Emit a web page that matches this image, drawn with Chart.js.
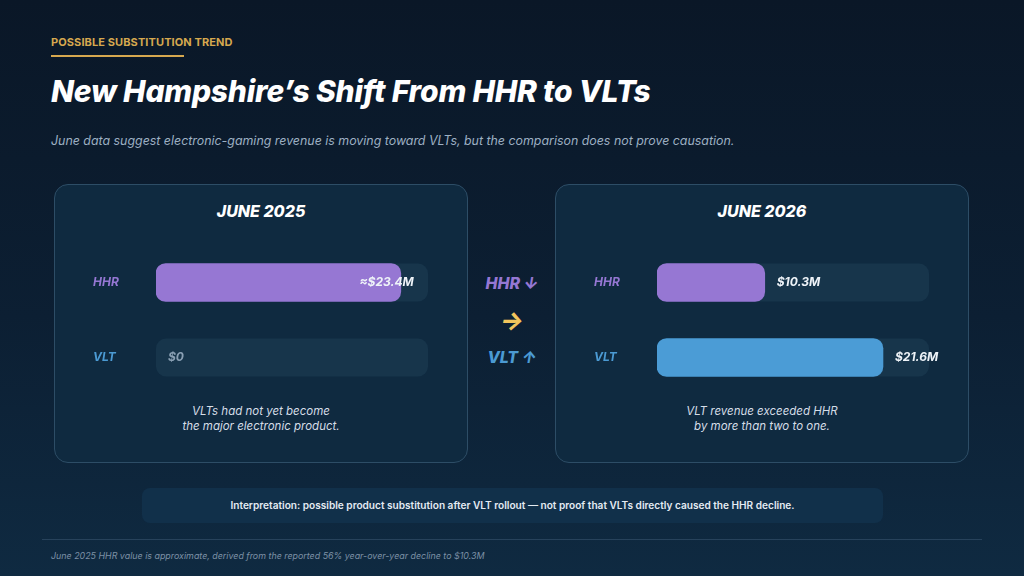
<!DOCTYPE html>
<html>
<head>
<meta charset="utf-8">
<script src="https://cdn.jsdelivr.net/npm/chart.js@4"></script>
<style>
  html, body { margin: 0; padding: 0; }
  body {
    width: 1024px; height: 576px; overflow: hidden; position: relative;
    background: linear-gradient(180deg, #0a1727 0%, #0c1f33 55%, #0f2a41 100%);
    font-family: Inter, "Noto Sans", sans-serif; color: #fff;
  }
  .abs { position: absolute; }
  .kicker { left: 51px; top: 35px; font-size: 11px; font-weight: 700; color: #d6a84f; letter-spacing: 0.1px; }
  .kicker-line { left: 51px; top: 55px; width: 133px; height: 2px; background: #d6a84f; }
  .title { left: 51px; top: 73px; font-size: 30px; font-weight: 800; font-style: italic; letter-spacing: -0.2px; }
  .subtitle { left: 51px; top: 133px; font-size: 12.4px; font-style: italic; color: #9db0c3; }
  .panel {
    top: 184px; width: 414px; height: 279px; border-radius: 14px;
    background: #0f2a40; border: 1px solid #2d4d66; box-sizing: border-box;
  }
  .panel-title { width: 100%; text-align: center; top: 16px; font-size: 16px; font-weight: 800; font-style: italic; }
  .caption { width: 100%; text-align: center; top: 219px; font-size: 11.5px; font-style: italic; color: #d5dde7; line-height: 15px; }
  .mid { left: 470px; width: 84px; text-align: center; font-weight: 800; font-style: italic; }
  .note {
    left: 142px; top: 488px; width: 741px; height: 35px; border-radius: 8px;
    background: #11304a; text-align: center; line-height: 35px;
    font-size: 10.1px; font-weight: 600; color: #e4ebf3;
  }
  .divider { left: 42px; top: 539px; width: 940px; height: 1px; background: #27425b; }
  .foot { left: 51px; top: 550px; font-size: 8.9px; font-style: italic; color: #7d91a6; }
  canvas { display: block; }
</style>
</head>
<body>
<div class="abs kicker">POSSIBLE SUBSTITUTION TREND</div>
<div class="abs kicker-line"></div>
<div class="abs title">New Hampshire’s Shift From HHR to VLTs</div>
<div class="abs subtitle">June data suggest electronic-gaming revenue is moving toward VLTs, but the comparison does not prove causation.</div>

<div class="abs panel" style="left:54px">
  <div class="abs panel-title">JUNE 2025</div>
  <div class="abs" style="left:38px; top:60px; width:348px; height:150px"><canvas id="chart-2025"></canvas></div>
  <div class="abs caption">VLTs had not yet become<br>the major electronic product.</div>
</div>

<div class="abs mid" style="top:273px; font-size:16px; color:#9577d3">HHR ↓</div>
<div class="abs mid" style="top:305px; font-size:25px; color:#f2c55c">→</div>
<div class="abs mid" style="top:347px; font-size:16px; color:#4b9ad3">VLT ↑</div>

<div class="abs panel" style="left:555px">
  <div class="abs panel-title">JUNE 2026</div>
  <div class="abs" style="left:38px; top:60px; width:348px; height:150px"><canvas id="chart-2026"></canvas></div>
  <div class="abs caption">VLT revenue exceeded HHR<br>by more than two to one.</div>
</div>

<div class="abs note">Interpretation: possible product substitution after VLT rollout — not proof that VLTs directly caused the HHR decline.</div>
<div class="abs divider"></div>
<div class="abs foot">June 2025 HHR value is approximate, derived from the reported 56% year-over-year decline to $10.3M</div>

<script>
  // revenue in $M
  const rows = ["HHR", "VLT"];
  const june2025 = [23.4, 0];
  const june2026 = [10.3, 21.6];
  const labels2025 = ["≈$23.4M", "$0"];
  const labels2026 = ["$10.3M", "$21.6M"];
  const scaleMax = 26;

  const rowColors = ["#9577d3", "#4b9ad3"];
  const barColors = ["#9677d3", "#4b9cd6"];
  const labelFont = "italic 700 12px Inter, 'Noto Sans', sans-serif";

  function roundRect(ctx, x, y, w, h, r) {
    ctx.beginPath();
    ctx.moveTo(x + r, y);
    ctx.arcTo(x + w, y, x + w, y + h, r);
    ctx.arcTo(x + w, y + h, x, y + h, r);
    ctx.arcTo(x, y + h, x, y, r);
    ctx.arcTo(x, y, x + w, y, r);
    ctx.closePath();
  }

  // background track behind each bar
  const trackPlugin = {
    id: "track",
    beforeDatasetsDraw(chart) {
      const { ctx, chartArea } = chart;
      const meta = chart.getDatasetMeta(0);
      ctx.save();
      ctx.fillStyle = "#17354b";
      meta.data.forEach((bar) => {
        const h = bar.height;
        roundRect(ctx, chartArea.left, bar.y - h / 2, chartArea.right - chartArea.left, h, 10);
        ctx.fill();
      });
      ctx.restore();
    },
  };

  // value text just past the bar end; pulled inside when it would spill
  const valuePlugin = {
    id: "values",
    afterDatasetsDraw(chart, args, opts) {
      const { ctx, chartArea } = chart;
      const meta = chart.getDatasetMeta(0);
      const values = chart.data.datasets[0].data;
      ctx.save();
      ctx.font = labelFont;
      ctx.textBaseline = "middle";
      meta.data.forEach((bar, i) => {
        const text = opts.labels[i];
        const w = ctx.measureText(text).width;
        const x = bar.x + 12;
        ctx.fillStyle = values[i] === 0 ? "#8aa0b4" : "#eef3f8";
        if (x + w > chartArea.right + 12) {
          ctx.textAlign = "right";
          ctx.fillText(text, x + 1, bar.y);
        } else {
          ctx.textAlign = "left";
          ctx.fillText(text, x, bar.y);
        }
      });
      ctx.restore();
    },
  };

  function makeChart(id, values, labels) {
    return new Chart(document.getElementById(id), {
      type: "bar",
      data: {
        labels: rows,
        datasets: [{
          data: values,
          backgroundColor: (c) => (c.raw === 0 ? "rgba(0,0,0,0)" : barColors[c.dataIndex]),
          borderRadius: 10,
          borderSkipped: false,
          barThickness: 38,
        }],
      },
      options: {
        indexAxis: "y",
        responsive: true,
        maintainAspectRatio: false,
        animation: false,
        layout: { padding: { left: 0, right: 13, top: 0, bottom: 0 } },
        scales: {
          x: { min: 0, max: scaleMax, display: false },
          y: {
            grid: { display: false },
            border: { display: false },
            afterFit(scale) {
              scale.width = 63;
              scale.paddingTop = 0;
              scale.paddingBottom = 0;
            },
            ticks: {
              crossAlign: "far",
              padding: 0,
              color: (c) => rowColors[c.index],
              font: { family: "Inter, 'Noto Sans', sans-serif", size: 12, style: "italic", weight: "bold" },
            },
          },
        },
        plugins: {
          legend: { display: false },
          tooltip: { enabled: false },
          values: { labels },
        },
      },
      plugins: [trackPlugin, valuePlugin],
    });
  }

  makeChart("chart-2025", june2025, labels2025);
  makeChart("chart-2026", june2026, labels2026);
</script>
</body>
</html>
